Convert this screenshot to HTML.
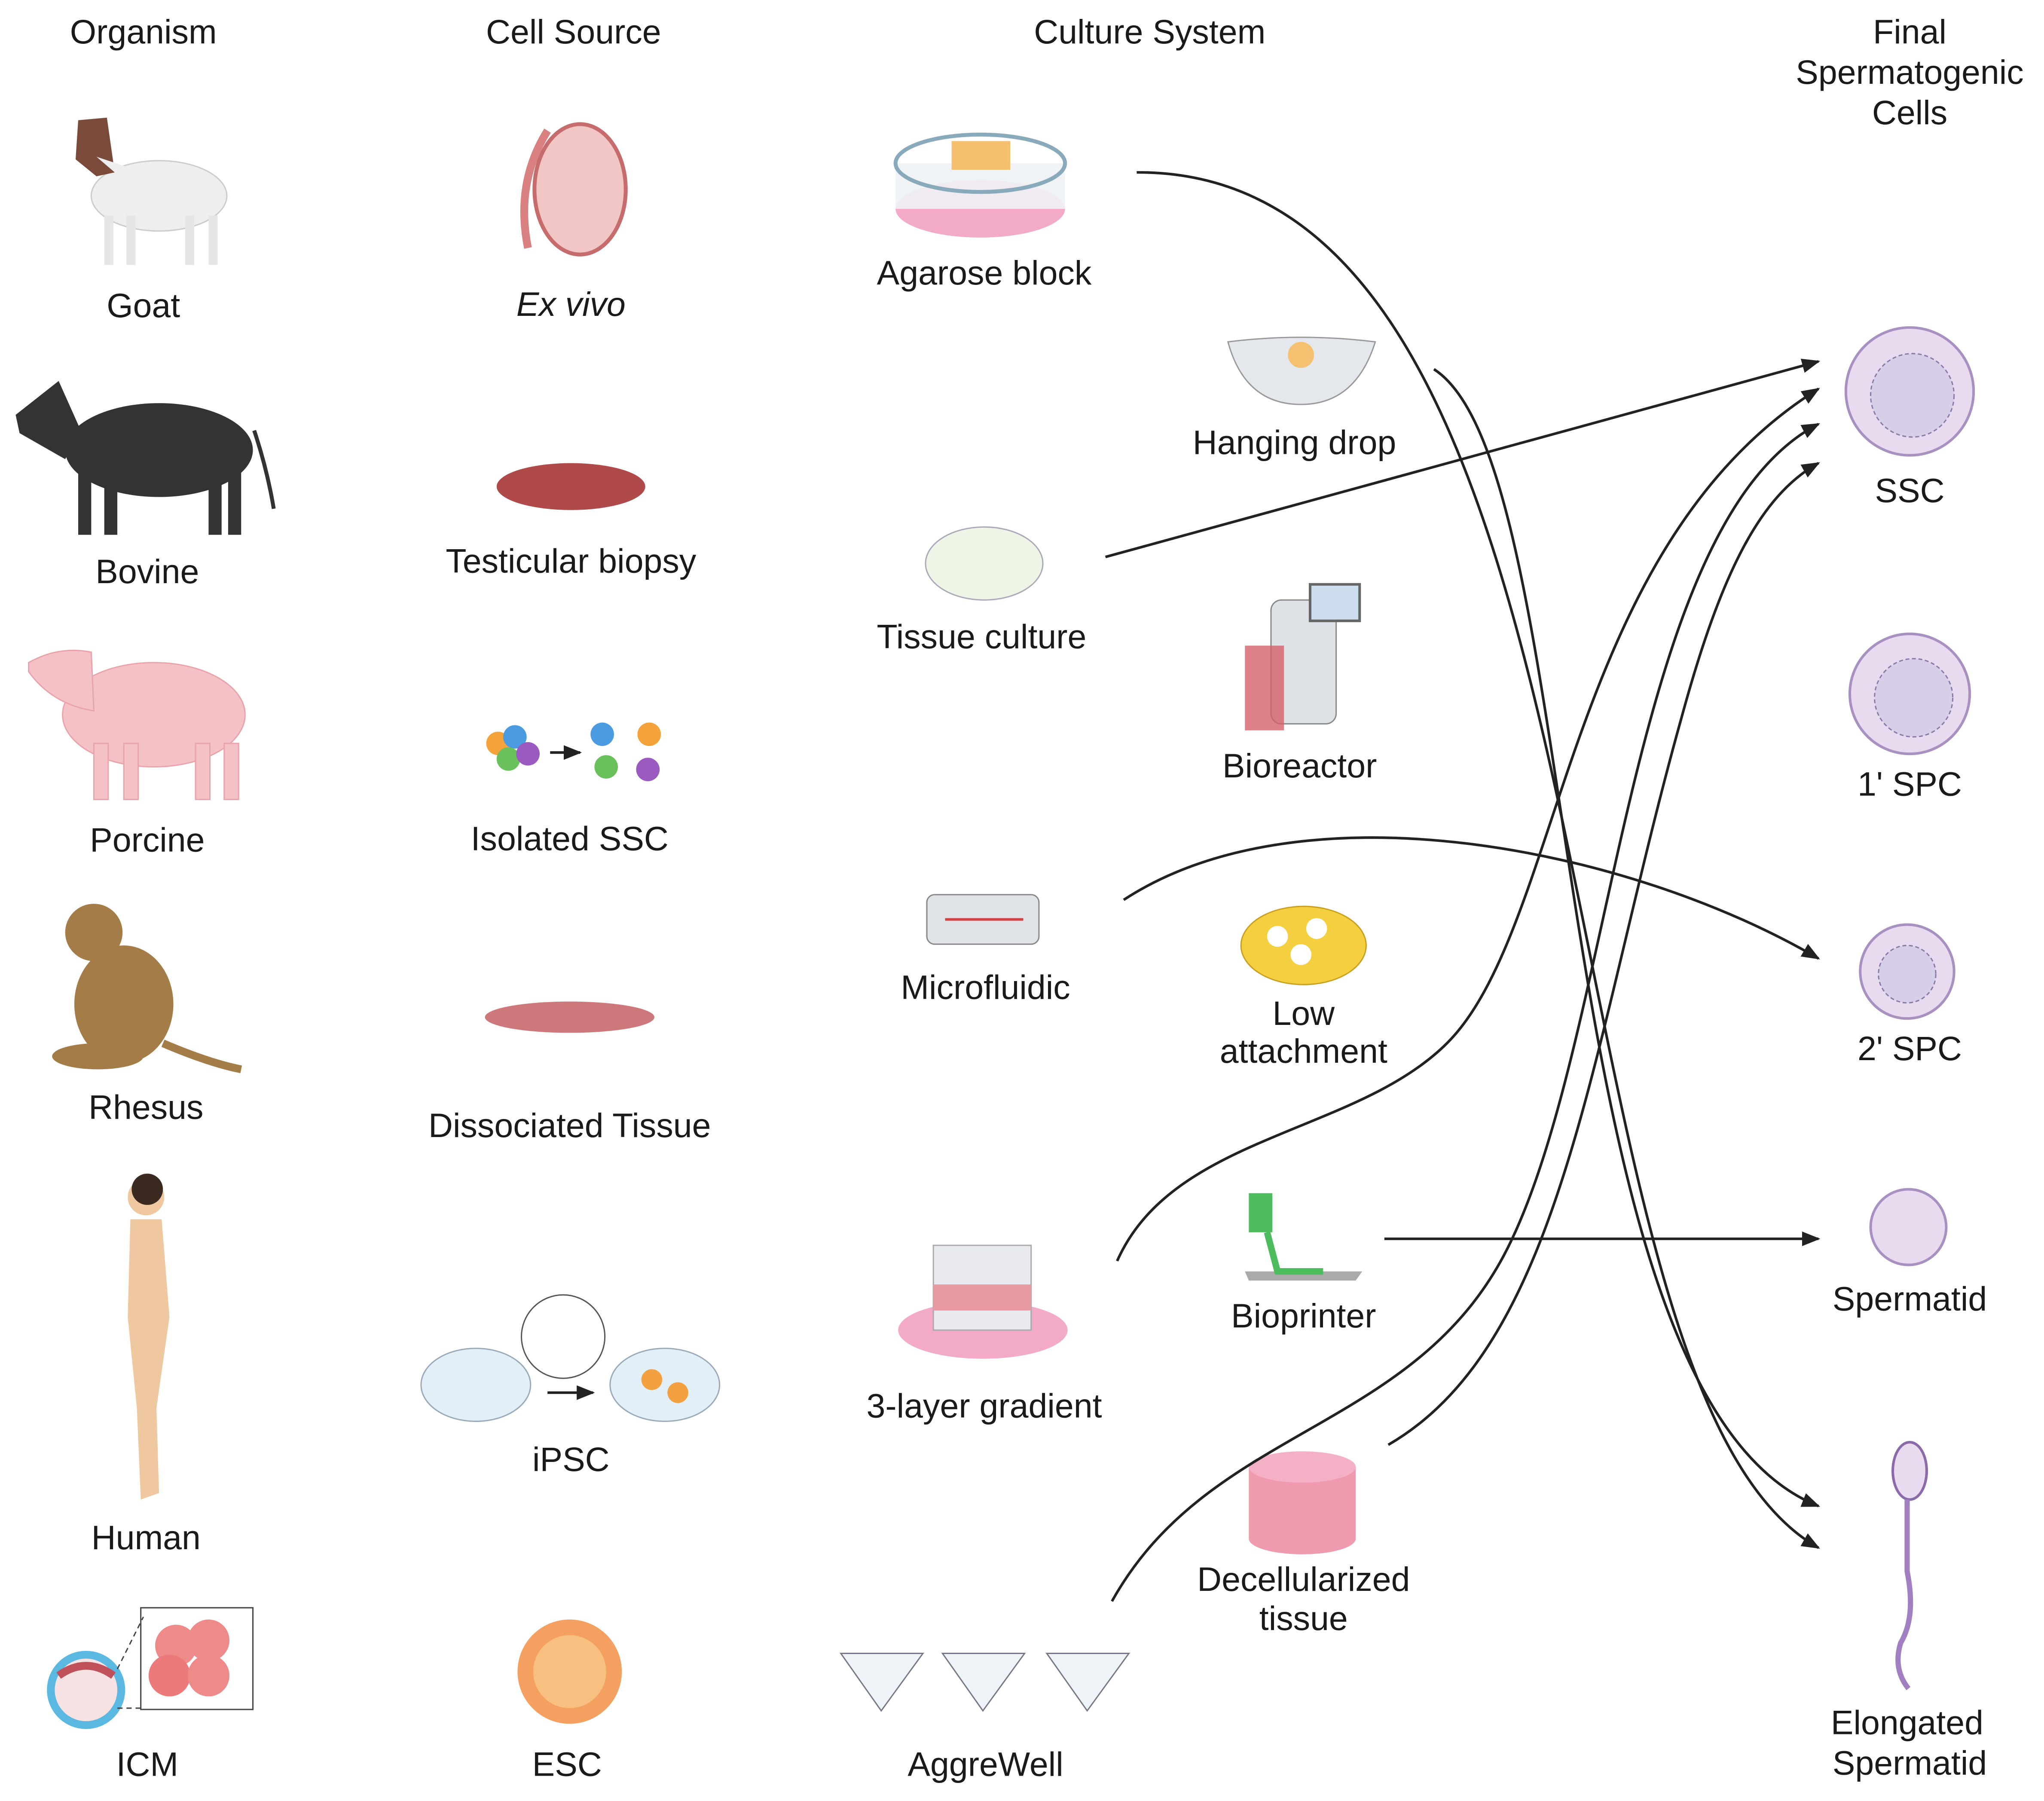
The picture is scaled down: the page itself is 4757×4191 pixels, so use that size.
<!DOCTYPE html>
<html><head><meta charset="utf-8">
<style>
html,body{margin:0;padding:0;background:#fff;}
svg{display:block;}
text{font-family:"Liberation Sans",sans-serif;font-size:26px;fill:#1a1a1a;text-anchor:middle;}
</style></head>
<body>
<svg width="4757" height="4191" viewBox="0 0 1568 1381" xmlns="http://www.w3.org/2000/svg">
<defs>
<marker id="ah" viewBox="0 0 10 10" refX="9" refY="5" markerWidth="14" markerHeight="14" orient="auto" markerUnits="userSpaceOnUse">
<path d="M0,1 L10,5 L0,9 z" fill="#222"/></marker>
</defs>
<rect width="1568" height="1381" fill="#fff"/>

<text x="110" y="33">Organism</text>
<text x="440" y="33">Cell Source</text>
<text x="882" y="33">Culture System</text>
<text x="1465" y="33">Final</text>
<text x="1465" y="64">Spermatogenic</text>
<text x="1465" y="95">Cells</text>

<!-- goat -->
<g>
<ellipse cx="122" cy="150" rx="52" ry="27" fill="#eeeeee" stroke="#ccc"/>
<rect x="80" y="165" width="7" height="38" fill="#e6e6e6"/><rect x="97" y="165" width="7" height="38" fill="#e6e6e6"/>
<rect x="142" y="165" width="7" height="38" fill="#e6e6e6"/><rect x="160" y="165" width="7" height="38" fill="#e6e6e6"/>
<path d="M60,92 L82,90 L88,132 L74,135 L58,122 z" fill="#7a4a3a"/>
<path d="M74,120 L88,132 L98,128" fill="#eee"/>
</g>
<!-- bovine -->
<g fill="#333">
<ellipse cx="122" cy="345" rx="72" ry="36"/>
<path d="M12,318 L45,292 L62,330 L50,352 L15,332z"/>
<rect x="60" y="360" width="10" height="50"/><rect x="80" y="360" width="10" height="50"/>
<rect x="160" y="360" width="10" height="50"/><rect x="175" y="360" width="10" height="50"/>
<path d="M195,330 Q205,360 210,390" stroke="#333" stroke-width="3" fill="none"/>
</g>
<!-- pig -->
<g fill="#f4c2c6" stroke="#e8a4aa">
<ellipse cx="118" cy="548" rx="70" ry="40"/>
<path d="M22,508 Q45,495 70,500 L72,545 Q40,540 22,515z"/>
<rect x="72" y="570" width="11" height="43"/><rect x="95" y="570" width="11" height="43"/>
<rect x="150" y="570" width="11" height="43"/><rect x="172" y="570" width="11" height="43"/>
</g>
<!-- rhesus -->
<g fill="#a47c48">
<ellipse cx="95" cy="770" rx="38" ry="45"/>
<circle cx="72" cy="715" r="22"/>
<ellipse cx="75" cy="810" rx="35" ry="10"/>
<path d="M125,800 Q160,815 185,820" stroke="#a47c48" stroke-width="6" fill="none"/>
</g>
<!-- human -->
<g fill="#f0c8a0">
<circle cx="112" cy="918" r="14"/>
<path d="M100,935 L124,935 L130,1010 L120,1080 L122,1145 L108,1150 L105,1080 L98,1010z"/>
</g>
<circle cx="113" cy="912" r="12" fill="#3a2a20"/>
<!-- ICM -->
<g>
<circle cx="66" cy="1296" r="30" fill="#5bb8e0"/><circle cx="66" cy="1296" r="24" fill="#f6e2e2"/>
<path d="M45,1285 Q66,1270 87,1285" stroke="#c0505a" stroke-width="6" fill="none"/>
<rect x="108" y="1233" width="86" height="78" fill="#fff" stroke="#444"/>
<circle cx="135" cy="1262" r="16" fill="#ef8a8a"/><circle cx="160" cy="1258" r="16" fill="#ef8a8a"/>
<circle cx="130" cy="1285" r="16" fill="#ec7a7a"/><circle cx="160" cy="1285" r="16" fill="#ef8a8a"/>
<path d="M90,1280 L110,1240 M90,1310 L110,1310" stroke="#444" stroke-dasharray="4 3"/>
</g>

<text x="110" y="243">Goat</text>
<text x="113" y="447">Bovine</text>
<text x="113" y="653">Porcine</text>
<text x="112" y="858">Rhesus</text>
<text x="112" y="1188">Human</text>
<text x="113" y="1362">ICM</text>

<g>
<ellipse cx="445" cy="145" rx="35" ry="50" fill="#f3c6c6" stroke="#c76c6c" stroke-width="3"/>
<path d="M420,100 Q395,140 405,190" stroke="#d98080" stroke-width="6" fill="none"/>
</g>
<ellipse cx="438" cy="373" rx="57" ry="18" fill="#b04a4a"/>
<g>
<circle cx="382" cy="570" r="9" fill="#f3a33a"/><circle cx="395" cy="565" r="9" fill="#4a9be0"/><circle cx="390" cy="582" r="9" fill="#6ac05a"/><circle cx="405" cy="578" r="9" fill="#9a5ac0"/>
<path d="M422,577 L445,577" stroke="#222" stroke-width="2" marker-end="url(#ah)"/>
<circle cx="462" cy="563" r="9" fill="#4a9be0"/><circle cx="498" cy="563" r="9" fill="#f3a33a"/><circle cx="465" cy="588" r="9" fill="#6ac05a"/><circle cx="497" cy="590" r="9" fill="#9a5ac0"/>
</g>
<ellipse cx="437" cy="780" rx="65" ry="12" fill="#c0585a" opacity="0.8"/>
<g>
<ellipse cx="365" cy="1062" rx="42" ry="28" fill="#e3eff7" stroke="#9ab"/>
<ellipse cx="510" cy="1062" rx="42" ry="28" fill="#e3eff7" stroke="#9ab"/>
<circle cx="432" cy="1025" r="32" fill="#fff" stroke="#555"/>
<circle cx="500" cy="1058" r="8" fill="#f3a040"/><circle cx="520" cy="1068" r="8" fill="#f3a040"/>
<path d="M420,1068 L455,1068" stroke="#222" stroke-width="2" marker-end="url(#ah)"/>
</g>
<circle cx="437" cy="1282" r="40" fill="#f4a060"/>
<circle cx="437" cy="1282" r="28" fill="#f7c080"/>

<text x="438" y="242" font-style="italic">Ex vivo</text>
<text x="438" y="439">Testicular biopsy</text>
<text x="437" y="652">Isolated SSC</text>
<text x="437" y="872">Dissociated Tissue</text>
<text x="438" y="1128">iPSC</text>
<text x="435" y="1362">ESC</text>

<g>
<ellipse cx="752" cy="160" rx="65" ry="22" fill="#f2aac8"/>
<rect x="687" y="125" width="130" height="35" fill="#eef2f4" opacity="0.9"/>
<ellipse cx="752" cy="125" rx="65" ry="22" fill="none" stroke="#8ab" stroke-width="3"/>
<rect x="730" y="108" width="45" height="22" fill="#f4c070"/>
</g>
<path d="M942,262 Q998,255 1055,262 Q1040,310 998,310 Q955,310 942,262z" fill="#e4e8ec" stroke="#999"/>
<circle cx="998" cy="272" r="10" fill="#f5c070"/>
<ellipse cx="755" cy="432" rx="45" ry="28" fill="#eef5e6" stroke="#aab"/>
<g>
<rect x="975" y="460" width="50" height="95" rx="8" fill="#dde2e6" stroke="#888"/>
<rect x="955" y="495" width="30" height="65" fill="#d6606a" opacity="0.8"/>
<rect x="1005" y="448" width="38" height="28" fill="#cde" stroke="#666" stroke-width="2"/>
</g>
<rect x="711" y="686" width="86" height="38" rx="6" fill="#e0e4e8" stroke="#888"/>
<path d="M725,705 L785,705" stroke="#d84040" stroke-width="2"/>
<ellipse cx="1000" cy="725" rx="48" ry="30" fill="#f4d040" stroke="#c9a020"/>
<g fill="#fff"><circle cx="980" cy="718" r="8"/><circle cx="1010" cy="712" r="8"/><circle cx="998" cy="732" r="8"/></g>
<g>
<ellipse cx="754" cy="1020" rx="65" ry="22" fill="#f2aac8"/>
<rect x="716" y="955" width="75" height="65" fill="#e8eaee" stroke="#aaa"/>
<rect x="716" y="985" width="75" height="20" fill="#e89aa0"/>
</g>
<rect x="958" y="915" width="18" height="30" fill="#4cbc5c"/>
<path d="M955,975 L1045,975 L1040,982 L958,982z" fill="#aaa"/>
<path d="M972,945 L980,975 L1015,975" stroke="#4cbc5c" stroke-width="5" fill="none"/>
<g>
<rect x="958" y="1125" width="82" height="55" fill="#f09ab0"/>
<ellipse cx="999" cy="1125" rx="41" ry="12" fill="#f4b0c4"/>
<ellipse cx="999" cy="1180" rx="41" ry="12" fill="#f09ab0"/>
</g>
<g fill="#eef3f7" stroke="#778">
<path d="M645,1268 L708,1268 L676,1312z"/><path d="M723,1268 L786,1268 L754,1312z"/><path d="M803,1268 L866,1268 L834,1312z"/>
</g>

<text x="755" y="218">Agarose block</text>
<text x="993" y="348">Hanging drop</text>
<text x="753" y="497">Tissue culture</text>
<text x="997" y="596">Bioreactor</text>
<text x="756" y="766">Microfluidic</text>
<text x="1000" y="786">Low</text>
<text x="1000" y="815">attachment</text>
<text x="1000" y="1018">Bioprinter</text>
<text x="755" y="1087">3-layer gradient</text>
<text x="1000" y="1220">Decellularized</text>
<text x="1000" y="1250">tissue</text>
<text x="756" y="1362">AggreWell</text>

<g>
<circle cx="1465" cy="300" r="49" fill="#e8dbef" stroke="#a890c0" stroke-width="2"/>
<circle cx="1467" cy="303" r="32" fill="#d7cfe8" stroke="#8a7aa8" stroke-dasharray="3 2"/>
<circle cx="1465" cy="532" r="46" fill="#e8dbef" stroke="#a890c0" stroke-width="2"/>
<circle cx="1468" cy="535" r="30" fill="#d7cfe8" stroke="#8a7aa8" stroke-dasharray="3 2"/>
<circle cx="1463" cy="745" r="36" fill="#e8dbef" stroke="#a890c0" stroke-width="2"/>
<circle cx="1463" cy="747" r="22" fill="#d7cfe8" stroke="#8a7aa8" stroke-dasharray="3 2"/>
<circle cx="1464" cy="941" r="29" fill="#e8dbef" stroke="#a890c0" stroke-width="2"/>
<ellipse cx="1465" cy="1128" rx="13" ry="22" fill="#e8dbef" stroke="#8a6aa8" stroke-width="2"/>
<path d="M1463,1150 L1463,1205 Q1470,1240 1458,1260 Q1452,1280 1464,1295" stroke="#a080c0" stroke-width="4" fill="none"/>
</g>
<text x="1465" y="385">SSC</text>
<text x="1465" y="610">1' SPC</text>
<text x="1465" y="813">2' SPC</text>
<text x="1465" y="1005">Spermatid</text>
<text x="1463" y="1330">Elongated</text>
<text x="1465" y="1361">Spermatid</text>

<g fill="none" stroke="#222" stroke-width="2" marker-end="url(#ah)">
<path d="M872,132 C1260,130 1170,1060 1395,1187"/>
<path d="M1100,283 C1220,360 1180,1070 1395,1155"/>
<path d="M848,427 L1395,277"/>
<path d="M862,690 C1000,600 1250,650 1395,735"/>
<path d="M857,967 C900,870 1040,870 1110,800 C1200,710 1200,420 1395,298"/>
<path d="M1062,950 L1395,950"/>
<path d="M1065,1108 C1200,1030 1220,800 1290,550 C1320,440 1350,380 1395,355"/>
<path d="M853,1228 C930,1090 1090,1100 1160,950 C1240,780 1250,400 1395,325"/>
</g>
</svg>
</body></html>
